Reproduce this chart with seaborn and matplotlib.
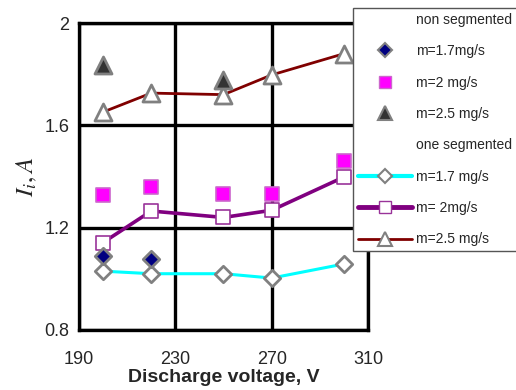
import matplotlib
matplotlib.use("Agg")
import matplotlib.pyplot as plt
from matplotlib.lines import Line2D
import seaborn as sns

# Non-segmented
ns_v17 = [200, 220]
ns_i17 = [1.089, 1.077]
ns_v20 = [200, 220, 250, 270, 300]
ns_i20 = [1.328, 1.36, 1.33, 1.33, 1.46]
ns_v25 = [200, 250]
ns_i25 = [1.836, 1.777]

# One segmented
os_v = [200, 220, 250, 270, 300]
os_i17 = [1.03, 1.02, 1.02, 1.003, 1.058]
os_i20 = [1.142, 1.265, 1.24, 1.268, 1.398]
os_i25 = [1.652, 1.726, 1.72, 1.797, 1.88]

xticks = [190, 230, 270, 310]
yticks = [0.8, 1.2, 1.6, 2.0]
ytick_labels = ["0.8", "1.2", "1.6", "2"]

sns.set_theme(style="white")
plt.rcParams['font.family'] = ['Liberation Sans', 'DejaVu Sans']
plt.rcParams['mathtext.fontset'] = 'stix'

fig = plt.figure(figsize=(5.16, 3.9), dpi=100)
ax = fig.add_axes([79/516, 60/390, 289/516, 307/390])

GRAY = "#808080"
for y, col, lw in [(os_i17, "#00FFFF", 2.2), (os_i20, "#800080", 2.6), (os_i25, "#800000", 2.0)]:
    sns.lineplot(x=os_v, y=y, ax=ax, color=col, lw=lw, zorder=3)
sns.scatterplot(x=os_v, y=os_i17, ax=ax, marker="D", s=70, facecolor="white",
                edgecolor=GRAY, linewidth=2, zorder=5)
sns.scatterplot(x=os_v, y=os_i20, ax=ax, marker="s", s=110, facecolor="white",
                edgecolor="#993399", linewidth=1.2, zorder=5)
sns.scatterplot(x=os_v, y=os_i25, ax=ax, marker="^", s=150, facecolor="white",
                edgecolor=GRAY, linewidth=2, zorder=5)
sns.scatterplot(x=ns_v17, y=ns_i17, ax=ax, marker="D", s=70, facecolor="#000080",
                edgecolor=GRAY, linewidth=2, zorder=6)
sns.scatterplot(x=ns_v20, y=ns_i20, ax=ax, marker="s", s=110, facecolor="#FF00FF",
                edgecolor="#CC66CC", linewidth=1.2, zorder=6)
sns.scatterplot(x=ns_v25, y=ns_i25, ax=ax, marker="^", s=150, facecolor="#333333",
                edgecolor=GRAY, linewidth=2, zorder=6)

ax.set_xlim(190, 310)
ax.set_ylim(0.8, 2.0)
ax.set_xticks(xticks)
ax.set_yticks(yticks)
ax.set_xticklabels([str(v) for v in xticks], fontsize=13)
ax.set_yticklabels(ytick_labels, fontsize=13)
ax.grid(True, color="black", lw=2.4, zorder=1)
ax.set_axisbelow(True)
for s in ax.spines.values():
    s.set_color("black")
    s.set_linewidth(2.4)
ax.tick_params(axis="both", direction="out", length=4, width=2, color="black", pad=3)
ax.tick_params(axis="x", pad=11)
ax.set_xlabel("Discharge voltage, V", fontsize=14, fontweight="bold", labelpad=1)
ax.set_ylabel(r"$I_i, A$", fontsize=18, labelpad=4)

blank = Line2D([], [], linestyle="none", marker=None)
handles = [
    blank,
    Line2D([], [], ls="none", marker="D", ms=7, mfc="#000080", mec=GRAY, mew=1.5),
    Line2D([], [], ls="none", marker="s", ms=8, mfc="#FF00FF", mec="#CC66CC", mew=1),
    Line2D([], [], ls="none", marker="^", ms=10, mfc="#333333", mec=GRAY, mew=1.5),
    blank,
    Line2D([], [], color="#00FFFF", lw=3, marker="D", ms=7, mfc="white", mec=GRAY, mew=1.5),
    Line2D([], [], color="#800080", lw=3.5, marker="s", ms=8, mfc="white", mec="#993399", mew=1),
    Line2D([], [], color="#800000", lw=2, marker="^", ms=10, mfc="white", mec=GRAY, mew=1.5),
]
labels = ["non segmented", "m=1.7mg/s", "m=2 mg/s", "m=2.5 mg/s",
          "one segmented", "m=1.7 mg/s", "m= 2mg/s", "m=2.5 mg/s"]
leg = fig.legend(handles, labels, loc="upper left", bbox_to_anchor=(353/516, 1 - 8/390),
                 bbox_transform=fig.transFigure, fontsize=10, frameon=True, fancybox=False,
                 edgecolor="#555555", framealpha=1, handlelength=3.9, handletextpad=0.3,
                 labelspacing=1.25, borderpad=0.35, borderaxespad=0)
leg.get_frame().set_linewidth(1)
leg.set_zorder(10)

fig.savefig("out.png", dpi=100)
